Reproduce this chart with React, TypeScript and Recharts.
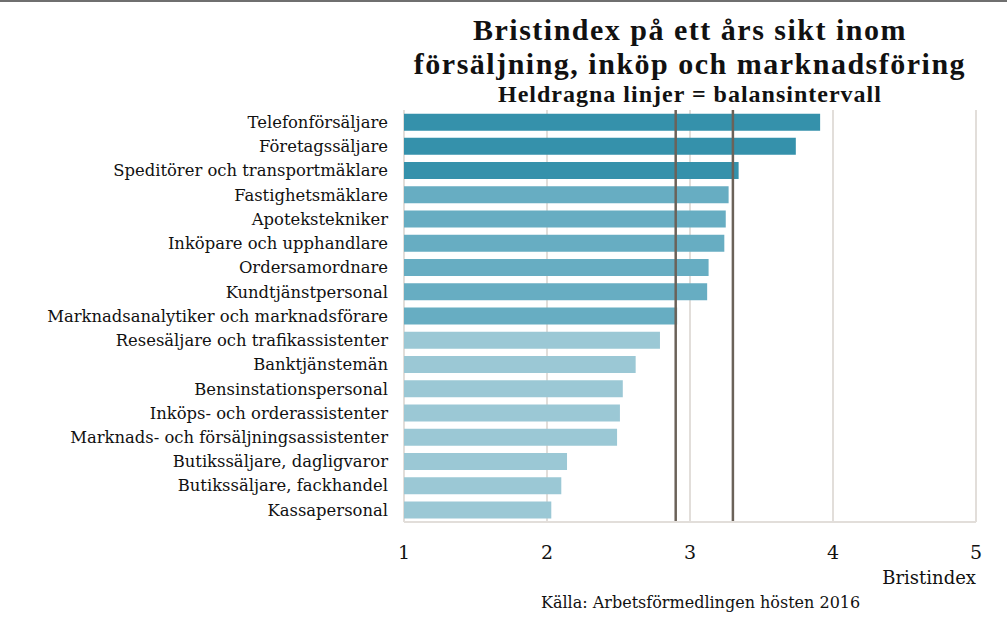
import { BarChart, Bar, Cell, XAxis, YAxis, CartesianGrid, ReferenceLine } from 'recharts';

const yrken = [
  'Telefonförsäljare',
  'Företagssäljare',
  'Speditörer och transportmäklare',
  'Fastighetsmäklare',
  'Apotekstekniker',
  'Inköpare och upphandlare',
  'Ordersamordnare',
  'Kundtjänstpersonal',
  'Marknadsanalytiker och marknadsförare',
  'Resesäljare och trafikassistenter',
  'Banktjänstemän',
  'Bensinstationspersonal',
  'Inköps- och orderassistenter',
  'Marknads- och försäljningsassistenter',
  'Butikssäljare, dagligvaror',
  'Butikssäljare, fackhandel',
  'Kassapersonal',
];

const bristindex = [3.91, 3.74, 3.34, 3.27, 3.25, 3.24, 3.13, 3.12, 2.91, 2.79, 2.62, 2.53, 2.51, 2.49, 2.14, 2.10, 2.03];
// 0 = över balans, 1 = inom balansintervall, 2 = under
const niva = [0, 0, 0, 1, 1, 1, 1, 1, 1, 2, 2, 2, 2, 2, 2, 2, 2];
const balansintervall = [2.9, 3.3];
const xTicks = [1, 2, 3, 4, 5];

const COLORS = ['#3591ab', '#67adc2', '#9bc8d5'];
const TITLE_FONT = '"Liberation Serif", serif';
const FONT = '"DejaVu Serif", serif';

const data = yrken.map((namn, i) => ({ namn, varde: bristindex[i], niva: niva[i] }));

const titleStyle = {
  position: 'absolute' as const,
  left: 390,
  width: 600,
  textAlign: 'center' as const,
  fontFamily: TITLE_FONT,
  fontWeight: 'bold' as const,
  lineHeight: 1,
  color: '#111',
  whiteSpace: 'nowrap' as const,
};

export default function App() {
  return (
    <div style={{ position: 'absolute', left: 0, top: 0, width: 1007, height: 626, background: '#fff', fontFamily: FONT, overflow: 'hidden' }}>
      <div style={{ position: 'absolute', left: 0, top: 0, width: 1007, height: 2, background: '#6f6f6f' }} />
      <div style={{ ...titleStyle, top: 15, fontSize: 30, letterSpacing: 1.5 }}>Bristindex på ett års sikt inom</div>
      <div style={{ ...titleStyle, top: 48.5, fontSize: 30, letterSpacing: 1.5 }}>försäljning, inköp och marknadsföring</div>
      <div style={{ ...titleStyle, top: 81.5, fontSize: 24, letterSpacing: 1 }}>Heldragna linjer = balansintervall</div>
      <BarChart
        width={1007}
        height={626}
        layout="vertical"
        data={data}
        margin={{ top: 110, right: 31, bottom: 0, left: 10 }}
        barCategoryGap="15%"
      >
        <CartesianGrid horizontal={false} stroke="#d8d3ce" strokeWidth={1.5} />
        <XAxis
          type="number"
          domain={[1, 5]}
          ticks={xTicks}
          allowDataOverflow
          height={104}
          tickLine={false}
          axisLine={{ stroke: '#e2deda', strokeWidth: 2 }}
          tickMargin={18}
          tick={{ fontSize: 19, fill: '#111', fontFamily: FONT }}
        />
        <YAxis
          type="category"
          dataKey="namn"
          width={394}
          tickLine={false}
          axisLine={false}
          tickMargin={10}
          interval={0}
          tick={{ fontSize: 16.4, fill: '#111', fontFamily: FONT }}
        />
        <Bar dataKey="varde" isAnimationActive={false}>
          {data.map((d, i) => (
            <Cell key={i} fill={COLORS[d.niva]} />
          ))}
        </Bar>
        {balansintervall.map((v) => (
          <ReferenceLine key={v} x={v} stroke="#6b6259" strokeWidth={2.5} />
        ))}
      </BarChart>
      <div style={{ position: 'absolute', right: 31, top: 567, fontSize: 18, color: '#111' }}>Bristindex</div>
      <div style={{ position: 'absolute', left: 541, top: 593, fontSize: 16, color: '#111' }}>Källa: Arbetsförmedlingen hösten 2016</div>
    </div>
  );
}
